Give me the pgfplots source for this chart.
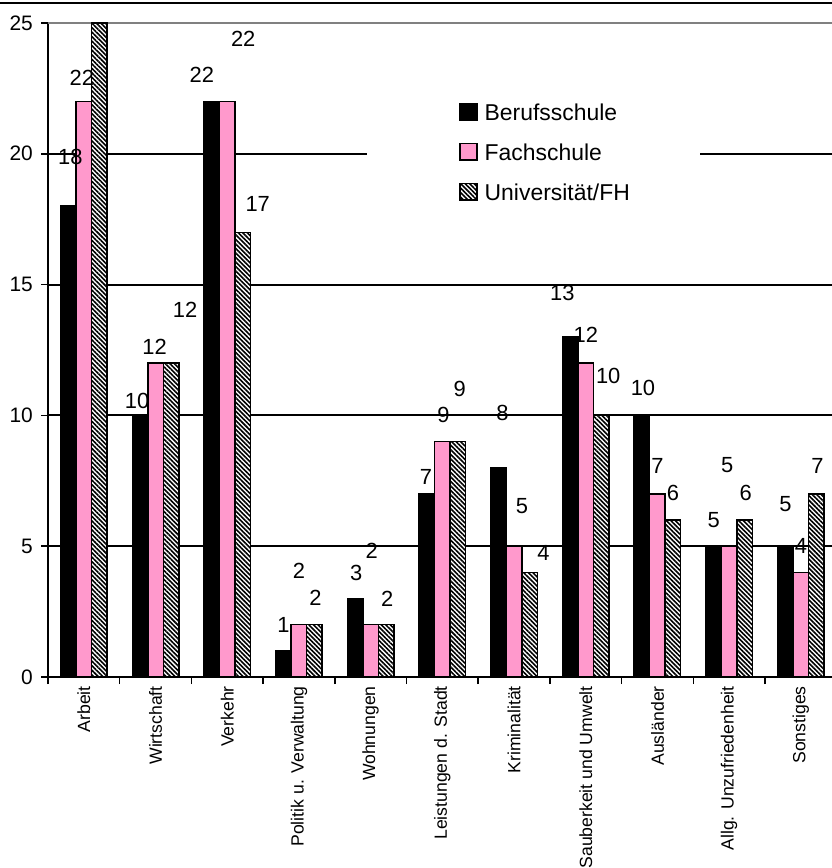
\documentclass[border=0pt]{standalone}
\usepackage{fontspec}
\setmainfont{Liberation Sans}
\usepackage{pgfplots}
\pgfplotsset{compat=1.18}
\usepackage{pgfplotstable}
\usetikzlibrary{patterns.meta}
\definecolor{fpink}{HTML}{FF99CC}

\pgfplotstableread{
x y lab dx dy
0 18 18 2 49
1 10 10 -3 14
2 22 22 -10 27
3 1 1 0 26
4 3 3 1 26
5 7 7 -1 17
6 8 8 4 55
7 13 13 -8 44
8 10 10 1 27
9 5 5 0 26
10 5 5 0 42
}\berufs
\pgfplotstableread{
x y lab dx dy
0 22 22 -2 24
1 12 12 -1 16
2 22 22 16 63
3 2 2 0 54
4 2 2 1 74
5 9 9 1 27
6 5 5 8 40
7 12 12 0 28
8 7 7 0 28
9 5 5 -2 81
10 4 4 0 26
}\fach
\pgfplotstableread{
x y lab dx dy
0 25 {} 0 30
1 12 12 14 53
2 17 17 15 28
3 2 2 1 27
4 2 2 1 26
5 9 9 2 53
6 4 4 14 19
7 10 10 7 39
8 6 6 0 27
9 6 6 1 27
10 7 7 1 28
}\uni

\pgfplotsset{lbl/.style={
  nodes near coords,
  point meta=explicit symbolic,
  visualization depends on={\thisrow{dx} \as \dx},
  visualization depends on={\thisrow{dy} \as \dy},
  every node near coord/.append style={anchor=center, inner sep=0pt, xshift={\dx*1bp}, yshift={\dy*1bp}, font=\fontsize{22}{26}\selectfont, text=black},
}}

\begin{document}
\begin{tikzpicture}
\path[use as bounding box] (0,0) rectangle (832bp,868bp);
\clip (0,0) rectangle (832bp,868bp);
\draw[line width=2.5bp] (0,865bp) -- (832bp,865bp);
\begin{scope}[overlay]
\begin{axis}[
  at={(48bp,191bp)}, anchor=south west,
  scale only axis, width=788.7bp, height=654bp,
  xmin=-0.5, xmax=10.5, ymin=0, ymax=25,
  clip=false,
  ybar, bar width=0.216,
  /pgf/number format/assume math mode=true,
  axis x line*=bottom, axis y line*=left,
  axis line style={line width=2bp, -},
  tick align=outside,
  major tick length=7bp, minor tick length=7bp,
  xtick={0,...,10},
  xticklabels={Arbeit, Wirtschaft, Verkehr, Politik u. Verwaltung, Wohnungen, Leistungen d. Stadt, Kriminalität, Sauberkeit und Umwelt, Ausländer, Allg. Unzufriedenheit, Sonstiges},
  minor xtick={-0.5,0.5,...,10.5},
  major x tick style={draw=none},
  minor x tick style={draw=black, line width=1.5bp},
  xticklabel style={rotate=90, anchor=east, inner sep=0pt, font=\fontsize{17.7}{21}\selectfont},
  xticklabel shift=2bp,
  ytick={0,5,10,15,20},
  extra y ticks={25},
  extra y tick style={grid style={draw=black!50, line width=2.5bp}},
  ytick style={draw=black, line width=1.5bp},
  yticklabel style={font=\fontsize{21}{24}\selectfont, inner sep=0pt},
  yticklabel shift=8bp,
  ymajorgrids, grid style={draw=black, line width=2bp},
  legend style={draw=none, fill=none, at={(0.5211,0.8777)}, anchor=north west, inner sep=0pt, row sep=17bp,
    font=\fontsize{23}{27}\selectfont, nodes={inner sep=0pt, text height=17bp, text depth=5bp}},
  legend cell align=left,
  legend image code/.code={\draw[#1, line width=1.5bp] (0bp,-5.5bp) rectangle (17bp,11bp); \path (24bp,0bp);},
]
\fill[white] (axis cs:3.95,16.9) rectangle (axis cs:8.59,23.2);
\addplot[fill=black, draw=black, line width=1.5bp, bar shift=-0.216, lbl] table[x=x, y=y, meta=lab] {\berufs};
\addplot[fill=fpink, draw=black, line width=1.5bp, bar shift=0, lbl] table[x=x, y=y, meta=lab] {\fach};
\addplot[fill=white, draw=black, line width=1.5bp, bar shift=0.216, lbl,
  postaction={pattern={Lines[angle=-45, distance=3.2bp, line width=1.6bp]}}] table[x=x, y=y, meta=lab] {\uni};
\legend{Berufsschule, Fachschule, Universität/FH}
\end{axis}
\end{scope}
\end{tikzpicture}
\end{document}
